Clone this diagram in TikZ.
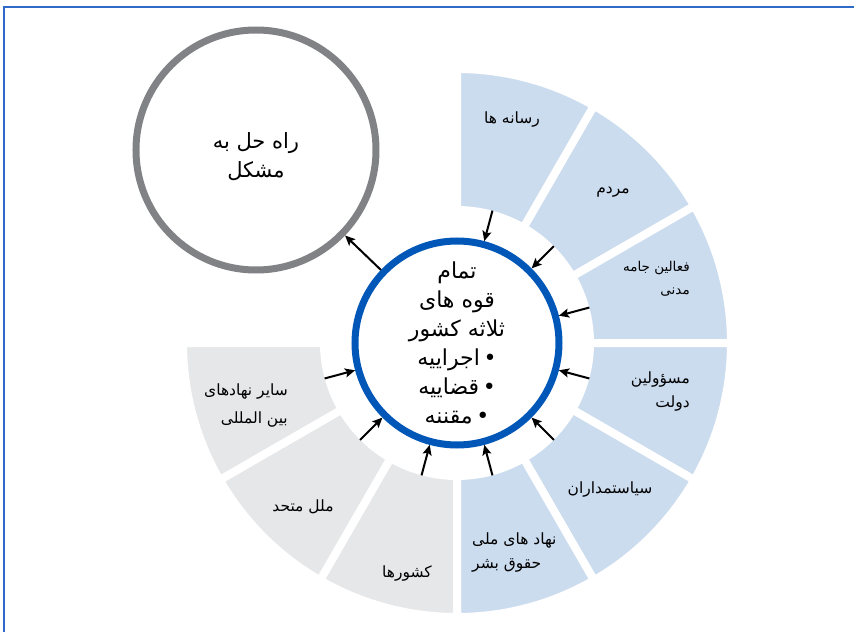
\documentclass[tikz,border=0pt]{standalone}
\usepackage{fontspec}
\newfontfamily\arabicfont[Script=Arabic]{DejaVu Sans}
\TeXXeTstate=1
\usetikzlibrary{arrows.meta, positioning}
\newcommand{\fatxt}[1]{\beginR #1\endR}
\definecolor{segblue}{HTML}{CCDCEF}
\definecolor{seggrey}{HTML}{E6E7E8}
\definecolor{coreblue}{HTML}{0057B8}
\definecolor{goalgrey}{HTML}{808285}
\definecolor{frameblue}{HTML}{2E6AC8}

\begin{document}
\begin{tikzpicture}[x=1pt, y=1pt,
		seg/.style = {draw=white, line width=8pt},
		lbl/.style = {font=\arabicfont\fontsize{15.5}{24}\selectfont, inner sep=0pt},
		arr/.style = {line width=2pt, -{Stealth[length=10pt, width=9pt, inset=2pt]}}
		]
		\useasboundingbox (-457,-289) rectangle (397,343);
		\draw [frameblue, line width=1.5pt] (-453,-289) -- (-453,336) -- (397,336);
		% ring of actors
		\foreach \a/\b/\c in {90/60/segblue, 60/30/segblue, 30/0/segblue,
			0/-30/segblue, -30/-60/segblue, -60/-90/segblue,
			-90/-120/seggrey, -120/-150/seggrey, -150/-180/seggrey}
		\fill [\c, seg] (\a:133) arc [start angle=\a, end angle=\b, radius=133]
			-- (\b:274) arc [start angle=\b, end angle=\a, radius=274] -- cycle;
		\foreach \t [count=\i] in {75,45,15,-15,-45,-75,-105,-135,-165}
		\coordinate (m\i) at (\t:137);
		
		\node (media) [lbl] at (55,223) {\fatxt{رسانه ها}};
		\node (people) [lbl] at (156,151) {\fatxt{مردم}};
		\node (civil) [lbl, font=\arabicfont\fontsize{13.5}{23}\selectfont, align=right, anchor=east] at (233,64.5)
			{\fatxt{فعالین جامه}\\\fatxt{مدنی}};
		\node (officials) [lbl, align=right, anchor=east] at (233,-49)
			{\fatxt{مسؤولین}\\\fatxt{دولت}};
		\node (politicians) [lbl] at (153,-147) {\fatxt{سیاستمداران}};
		\node (rights) [lbl, align=left, anchor=west] at (15,-209.5)
			{\fatxt{نهاد های ملی}\\\fatxt{حقوق بشر}};
		\node (states) [lbl] at (-50,-230) {\fatxt{کشورها}};
		\node (un) [lbl] at (-154,-164) {\fatxt{ملل متحد}};
		\node (intl) [lbl, font=\arabicfont\fontsize{15.5}{28}\selectfont, align=right, anchor=east] at (-169,-63)
			{\fatxt{سایر نهادهای}\\\fatxt{بین المللی}};
		
		\node (core) [circle, draw=coreblue, line width=7pt, minimum size=204pt, inner sep=0pt,
			align=center, font=\arabicfont\fontsize{22}{29}\selectfont] at (0,0)
			{\fatxt{تمام}\\\fatxt{قوه های}\\\fatxt{ثلاثه کشور}\\\fatxt{•\,اجراییه}\\\fatxt{•\,قضاییه}\\\fatxt{•\,مقننه}};
		\node (goal) [circle, draw=goalgrey, line width=7pt, minimum size=240pt] at (-201,193) {};
		\node (goaltxt) [align=center, inner sep=0pt, font=\arabicfont\fontsize{21}{29}\selectfont]
			at ([yshift=-7pt]goal.center) {\fatxt{راه حل به}\\\fatxt{مشکل}};
		
		\path [arr]
		(m1) edge (core)
		(m2) edge (core)
		(m3) edge (core)
		(m4) edge (core)
		(m5) edge (core)
		(m6) edge (core)
		(m7) edge (core)
		(m8) edge (core)
		(m9) edge (core)
		(core) edge (goal);
	\end{tikzpicture}
\end{document}
